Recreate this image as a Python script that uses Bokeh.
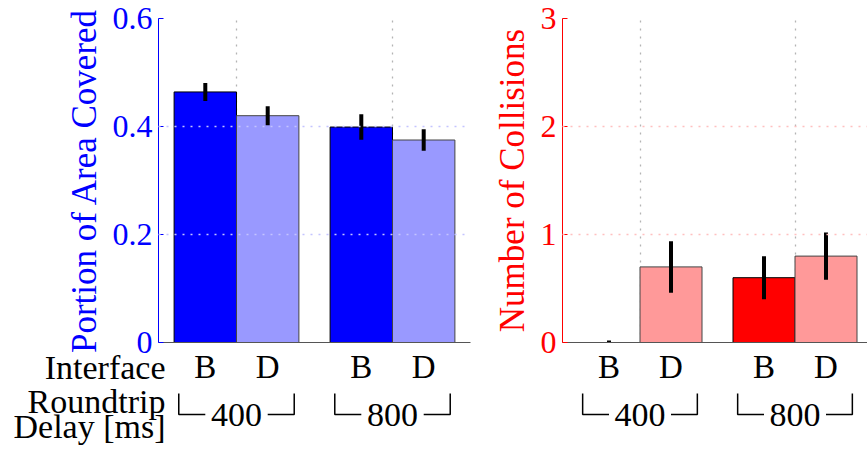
from bokeh.plotting import figure
from bokeh.models import Range1d, FixedTicker, GridBox
from bokeh.core.properties import value
from bokeh.embed import file_html
from bokeh.resources import INLINE

# ---------------- data ----------------
delays = ["400", "800"]            # roundtrip delay [ms] groups
interfaces = ["B", "D"]

area_B = [0.464, 0.399]
area_B_err = [0.013, 0.020]
area_D = [0.420, 0.375]
area_D_err = [0.014, 0.016]

coll_B = [0.0, 0.6]
coll_B_err = [0.0, 0.18]
coll_D = [0.70, 0.80]
coll_D_err = [0.22, 0.20]

area_ticks = [0, 0.2, 0.4, 0.6]
area_tick_labels = ["0", "0.2", "0.4", "0.6"]
coll_ticks = [0, 1, 2, 3]
coll_tick_labels = ["0", "1", "2", "3"]

row_labels = ["Interface", "Roundtrip", "Delay [ms]"]

# ---------------- layout constants (pixels) ----------------
W, H = 867, 451
TOP_Y = 18          # frame top
ZERO_Y = 342        # frame bottom (value 0)
L_W, L_LEFT, L_RIGHT = 480, 158, 470
R_W, R_LEFT, R_RIGHT = 387, 562, 867
PPU = {L_LEFT: 156.0, R_LEFT: 155.0}   # pixels per group unit
FONT = "Liberation Serif"
HALF = 0.2          # bar offset from group centre
group_x = [i + 1 for i in range(len(delays))]


def make_panel(width, fig_left, frame_left, frame_right, ymax, ticks, tick_labels,
               ylabel, main_color, light_color, grid_color,
               vals_B, err_B, vals_D, err_D):
    p = figure(width=width, height=H,
               x_range=Range1d(0.5, 0.5 + (frame_right - frame_left) / PPU[frame_left]),
               y_range=Range1d(0, ymax), output_backend="svg",
               toolbar_location=None,
               min_border_left=frame_left - fig_left,
               min_border_right=fig_left + width - frame_right,
               min_border_top=TOP_Y, min_border_bottom=H - ZERO_Y)
    p.frame_align = False
    p.outline_line_color = None
    p.background_fill_color = "white"
    p.border_fill_color = "white"

    # bars
    p.vbar(x=[g - HALF for g in group_x], top=vals_B, bottom=0, width=2 * HALF,
           fill_color=main_color, line_color="#000000", line_width=1)
    p.vbar(x=[g + HALF for g in group_x], top=vals_D, bottom=0, width=2 * HALF,
           fill_color=light_color, line_color="#444444", line_width=1)

    # error bars
    xs_err = [g - HALF for g in group_x] + [g + HALF for g in group_x]
    lo = [v - e for v, e in zip(vals_B, err_B)] + [v - e for v, e in zip(vals_D, err_D)]
    hi = [v + e for v, e in zip(vals_B, err_B)] + [v + e for v, e in zip(vals_D, err_D)]
    p.segment(x0=xs_err, y0=lo, x1=xs_err, y1=hi, line_color="black",
              line_width=4, line_cap="square")

    # y axis
    ax = p.yaxis[0]
    ax.ticker = FixedTicker(ticks=ticks)
    ax.major_label_overrides = {t: l for t, l in zip(ticks, tick_labels)}
    ax.axis_line_color = main_color
    ax.major_tick_line_color = main_color
    ax.major_tick_in = 5
    ax.major_tick_out = 0
    ax.minor_tick_line_color = None
    ax.major_label_text_color = main_color
    ax.major_label_text_font = FONT
    ax.major_label_text_font_size = "32px"
    ax.major_label_standoff = 6
    ax.axis_label = ylabel
    ax.axis_label_text_color = main_color
    ax.axis_label_text_font = FONT
    ax.axis_label_text_font_size = "35px"
    ax.axis_label_text_font_style = "normal"
    ax.axis_label_standoff = 6

    # x axis: interface letters under each bar
    xa = p.xaxis[0]
    bar_ticks, bar_labels = [], []
    for g in group_x:
        for k, name in enumerate(interfaces):
            bar_ticks.append(g - HALF if k == 0 else g + HALF)
            bar_labels.append(name)
    xa.ticker = FixedTicker(ticks=bar_ticks)
    xa.major_label_overrides = {t: l for t, l in zip(bar_ticks, bar_labels)}
    xa.axis_line_color = "#555555"
    xa.major_tick_line_color = None
    xa.minor_tick_line_color = None
    xa.major_tick_in = 0
    xa.major_tick_out = 0
    xa.major_label_text_font = FONT
    xa.major_label_text_font_size = "33px"
    xa.major_label_text_color = "black"
    xa.major_label_standoff = 6

    # grids (dotted, horizontal drawn over the bars)
    p.xgrid.ticker = FixedTicker(ticks=group_x)
    p.xgrid.grid_line_color = "#b4b4b4"
    p.xgrid.grid_line_dash = "2 6"
    p.xgrid.grid_line_width = 1.3
    p.ygrid.ticker = FixedTicker(ticks=ticks[1:])
    p.ygrid.grid_line_color = grid_color
    p.ygrid.grid_line_dash = "2 6"
    p.ygrid.grid_line_width = 1.3
    p.ygrid.level = "guide"
    return p


left = make_panel(L_W, 0, L_LEFT, L_RIGHT, 0.6, area_ticks, area_tick_labels,
                  "Portion of Area Covered", "#0000ff", "#9999ff", "#c4c4ff",
                  area_B, area_B_err, area_D, area_D_err)
right = make_panel(R_W, L_W, R_LEFT, R_RIGHT, 3.0, coll_ticks, coll_tick_labels,
                   "Number of Collisions", "#ff0000", "#ff9999", "#ffc0c0",
                   coll_B, coll_B_err, coll_D, coll_D_err)

# ---------------- transparent overlay for texts below the axes ----------------
ov = figure(width=W, height=H, x_range=Range1d(0, W), y_range=Range1d(H, 0),
            output_backend="svg", toolbar_location=None,
            x_axis_location=None, y_axis_location=None,
            min_border=0, min_border_left=0, min_border_right=0,
            min_border_top=0, min_border_bottom=0)
ov.frame_align = False
ov.outline_line_color = None
ov.background_fill_color = None
ov.border_fill_color = None
for gr in ov.grid:
    gr.visible = False
ov.extra_x_ranges = {
    "L": Range1d(0.5 - L_LEFT / PPU[L_LEFT], 0.5 + (W - L_LEFT) / PPU[L_LEFT]),
    "R": Range1d(0.5 - R_LEFT / PPU[R_LEFT], 0.5 + (W - R_LEFT) / PPU[R_LEFT]),
}

OUTER, INNER = 0.37, 0.2
BR_TOP, BR_BOT = ZERO_Y + 51, ZERO_Y + 72
for rn in ["L", "R"]:
    xs, ys = [], []
    for g in group_x:
        xs.append([g - OUTER, g - OUTER, g - INNER])
        ys.append([BR_TOP, BR_BOT, BR_BOT])
        xs.append([g + INNER, g + OUTER, g + OUTER])
        ys.append([BR_BOT, BR_BOT, BR_TOP])
    ov.multi_line(xs=xs, ys=ys, line_color="black", line_width=1.5, x_range_name=rn)
    ov.text(x=group_x, y=[ZERO_Y + 72] * len(group_x), text=delays,
            text_font=value(FONT), text_font_size=value("34px"),
            text_align="center", text_baseline="alphabetic", text_color="black",
            x_range_name=rn)

ov.text(x=[L_LEFT + 7] * 3, y=[ZERO_Y + 25, ZERO_Y + 59, ZERO_Y + 84], text=row_labels,
        text_font=value(FONT), text_font_size=value("34px"),
        text_align="right", text_baseline="alphabetic", text_color="black")

layout = GridBox(children=[(left, 0, 0), (right, 0, 1), (ov, 0, 0, 1, 2)], spacing=0)
open("out.html", "w").write(file_html(layout, INLINE))
